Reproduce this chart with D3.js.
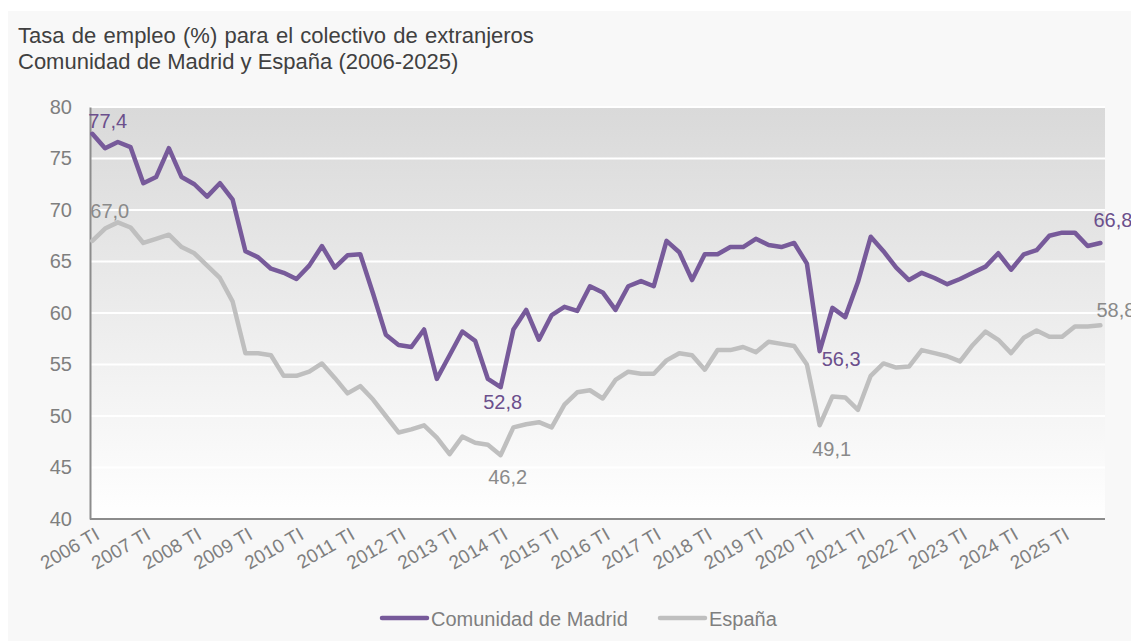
<!DOCTYPE html>
<html>
    <head>
        <meta charset="UTF-8" />
        <script src="https://d3js.org/d3.v7.min.js"></script>
        <title>Tasa de empleo extranjeros</title>
        <style>
            body {
                margin: 0;
                background: white;
                font-family: "Liberation Sans", Arial, sans-serif;
            }
        </style>
    </head>
    <body>
        <div id="chart"></div>
        <script>
// datos trimestrales 2006 TI - 2025 TIV
const years = d3.range(2006, 2026);
const quarters = ["TI", "TII", "TIII", "TIV"];
const periods = years.flatMap(y => quarters.map(q => y + " " + q));
const tickLabels = years.map(y => y + " TI");

const madrid = [77.4, 76.0, 76.6, 76.1, 72.6, 73.2, 76.0, 73.2, 72.5, 71.3, 72.6, 71.0,
  66.0, 65.4, 64.3, 63.9, 63.3, 64.6, 66.5, 64.4, 65.6, 65.7, 61.9, 57.9,
  56.9, 56.7, 58.4, 53.6, 55.9, 58.2, 57.3, 53.6, 52.8, 58.4, 60.3, 57.4,
  59.8, 60.6, 60.2, 62.6, 62.0, 60.3, 62.6, 63.1, 62.6, 67.0, 65.9, 63.2,
  65.7, 65.7, 66.4, 66.4, 67.2, 66.6, 66.4, 66.8, 64.8, 56.3, 60.5, 59.6,
  63.0, 67.4, 66.0, 64.4, 63.2, 63.9, 63.4, 62.8, 63.3, 63.9, 64.5, 65.8,
  64.2, 65.7, 66.1, 67.5, 67.8, 67.8, 66.5, 66.8];
const espana = [67.0, 68.2, 68.8, 68.3, 66.8, 67.2, 67.6, 66.4, 65.8, 64.6, 63.4, 61.1,
  56.1, 56.1, 55.9, 53.9, 53.9, 54.3, 55.1, 53.7, 52.2, 52.9, 51.6, 50.0,
  48.4, 48.7, 49.1, 47.9, 46.3, 48.0, 47.4, 47.2, 46.2, 48.9, 49.2, 49.4,
  48.9, 51.1, 52.3, 52.5, 51.7, 53.5, 54.3, 54.1, 54.1, 55.4, 56.1, 55.9,
  54.5, 56.4, 56.4, 56.7, 56.2, 57.2, 57.0, 56.8, 55.0, 49.1, 51.9, 51.8,
  50.6, 53.9, 55.1, 54.7, 54.8, 56.4, 56.1, 55.8, 55.3, 56.9, 58.2, 57.4,
  56.1, 57.6, 58.3, 57.7, 57.7, 58.7, 58.7, 58.8];
const seriesNames = ["Comunidad de Madrid", "España"];
const yTicks = [40, 45, 50, 55, 60, 65, 70, 75, 80];
// puntos con etiqueta de valor (serie, índice)
const labelled = [[0, 0], [0, 32], [0, 57], [0, 79], [1, 0], [1, 32], [1, 57], [1, 79]];

const W = 1131, H = 641;
const colors = ["#775a9a", "#bfbfbf"];
const textColors = ["#6b4f8c", "#8a8a8a"];
const pLeft = 90, pRight = 1105, pTop = 107, pBottom = 519;

const svg = d3.select("#chart").append("svg").attr("width", W).attr("height", H);

svg.append("rect").attr("x", 8).attr("y", 11).attr("width", W - 8).attr("height", H - 11)
  .attr("fill", "#f8f8f8");

const grad = svg.append("defs").append("linearGradient").attr("id", "bg")
  .attr("x1", 0).attr("y1", 0).attr("x2", 0).attr("y2", 1);
grad.append("stop").attr("offset", "0%").attr("stop-color", "#d9d9d9");
grad.append("stop").attr("offset", "100%").attr("stop-color", "#ffffff");

svg.append("rect").attr("x", pLeft).attr("y", pTop)
  .attr("width", pRight - pLeft).attr("height", pBottom - pTop).attr("fill", "url(#bg)");

// título
const title = svg.append("text").attr("x", 18).attr("fill", "#404040").attr("font-size", 22);
title.append("tspan").attr("x", 18).attr("y", 43).attr("word-spacing", 1.2)
  .text("Tasa de empleo (%) para el colectivo de extranjeros");
title.append("tspan").attr("x", 18).attr("y", 69).text("Comunidad de Madrid y España (2006-2025)");

const x = d3.scalePoint().domain(periods).range([92.3, 1100.4]);
const y = d3.scaleLinear().domain([40, 80]).range([pBottom, pTop]);

// rejilla
svg.append("g").selectAll("line").data(yTicks.filter(d => d > 40)).join("line")
  .attr("x1", pLeft).attr("x2", pRight)
  .attr("y1", d => y(d)).attr("y2", d => y(d))
  .attr("stroke", "white").attr("stroke-width", 2);

// eje y
const yAxis = svg.append("g").attr("transform", `translate(${pLeft},0)`)
  .call(d3.axisLeft(y).tickValues(yTicks).tickSize(0).tickPadding(18));
yAxis.select(".domain").attr("stroke", "#8c8c8c").attr("stroke-width", 2);
yAxis.selectAll("text").attr("font-size", 20).attr("fill", "#7f7f7f")
  .attr("font-family", "Liberation Sans, Arial, sans-serif");

// eje x
const xAxis = svg.append("g").attr("transform", `translate(0,${pBottom})`)
  .call(d3.axisBottom(x).tickValues(tickLabels).tickSize(0).tickSizeOuter(0));
xAxis.select(".domain").attr("stroke", "#8c8c8c").attr("stroke-width", 2)
  .attr("d", `M${pLeft},0H${pRight}`);
xAxis.selectAll("text")
  .attr("font-size", 19).attr("fill", "#7f7f7f")
  .attr("font-family", "Liberation Sans, Arial, sans-serif")
  .attr("text-anchor", "end").attr("dy", null).attr("y", 0)
  .attr("transform", "translate(8,19) rotate(-30)");

// líneas
const line = d3.line().x((d, i) => x(periods[i])).y(d => y(d));
[espana, madrid].forEach((s, k) => {
  svg.append("path").datum(s).attr("d", line)
    .attr("fill", "none").attr("stroke", colors[1 - k]).attr("stroke-width", 4.5)
    .attr("stroke-linejoin", "round").attr("stroke-linecap", "round");
});

// etiquetas de valores
const offsets = {
  "0-0": [-4, -6, "start"], "0-32": [2, 22, "middle"], "0-57": [2, 15, "start"], "0-79": [-7, -16, "start"],
  "1-0": [-2, -23, "start"], "1-32": [7, 29, "middle"], "1-57": [12, 31, "middle"], "1-79": [-4, -8, "start"]
};
const data = [madrid, espana];
svg.append("g").selectAll("text").data(labelled).join("text")
  .attr("x", d => x(periods[d[1]]) + offsets[d[0] + "-" + d[1]][0])
  .attr("y", d => y(data[d[0]][d[1]]) + offsets[d[0] + "-" + d[1]][1])
  .attr("text-anchor", d => offsets[d[0] + "-" + d[1]][2])
  .attr("font-size", 20).attr("fill", d => textColors[d[0]])
  .text(d => data[d[0]][d[1]].toFixed(1).replace(".", ","));

// leyenda
const legend = svg.append("g").attr("transform", "translate(382,618)");
const items = legend.selectAll("g").data(seriesNames).join("g")
  .attr("transform", (d, i) => `translate(${i * 278},0)`);
items.append("line").attr("x1", 0).attr("x2", 45)
  .attr("stroke", (d, i) => colors[i]).attr("stroke-width", 4.5)
  .attr("stroke-linecap", "round");
items.append("text").attr("x", 49).attr("y", 7.5).attr("font-size", 20)
  .attr("fill", "#7f7f7f").text(d => d);
        </script>
    </body>
</html>
